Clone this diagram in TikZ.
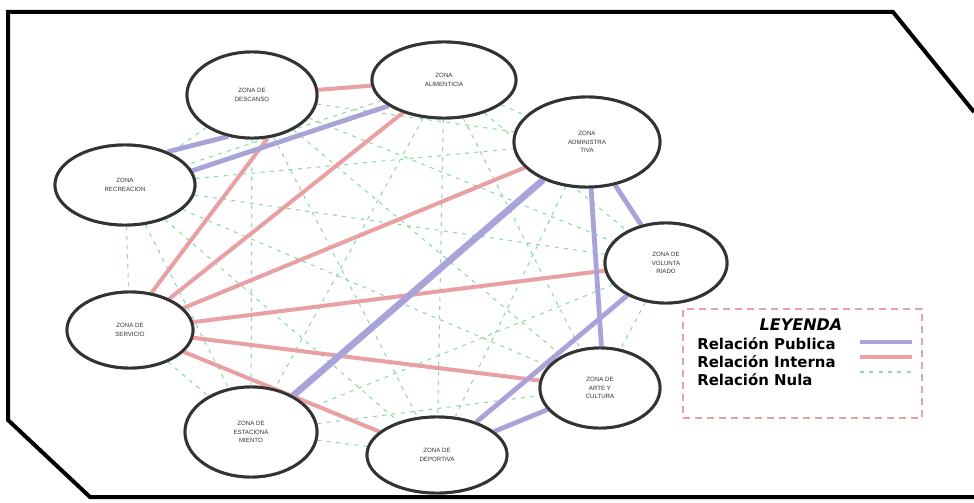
\documentclass[tikz,border=0pt]{standalone}
\usepackage{fontspec}
\setmainfont{Liberation Sans}
\newfontfamily\legfont{DejaVu Sans}
\usetikzlibrary{shapes.geometric}
\definecolor{pub}{HTML}{A9A3D9}
\definecolor{inter}{HTML}{E8A0A3}
\definecolor{nula}{HTML}{8FD9A8}
\definecolor{rim}{HTML}{333333}
\definecolor{legbox}{HTML}{E8A0A8}
\tikzset{
  zone/.style={ellipse, draw=rim, line width=2.2pt, fill=white, inner sep=0pt, align=center,
    font=\fontsize{4.6}{6.2}\selectfont, text=black!80},
  publine/.style={pub, line width=3.6pt},
  intline/.style={inter, line width=3pt},
  nulline/.style={nula, line width=0.8pt, dash pattern=on 3pt off 4pt},
  legtext/.style={font=\legfont\bfseries\fontsize{11.2}{13}\selectfont, anchor=west, inner sep=0pt}
}
\begin{document}
\begin{tikzpicture}[x=0.75pt,y=-0.75pt]
\useasboundingbox (0,0) rectangle (974,503);
\fill[white] (0,0) rectangle (974,503);
% frame
\draw[line width=3pt, line join=miter] (974,112) -- (893,12) -- (8,12) -- (8,420) -- (90,497) -- (974,497);
% nodes (placed first, drawn on top later)
\path
  (252,95) node[zone, minimum width=97.5pt, minimum height=64.5pt] (desc) {ZONA DE\\DESCANSO}
  (444,80) node[zone, minimum width=108pt, minimum height=57pt] (alim) {ZONA\\ALIMENTICIA}
  (587,142) node[zone, minimum width=109.5pt, minimum height=67.5pt] (adm) {ZONA\\ADMINISTRA\\TIVA}
  (125,185) node[zone, minimum width=105pt, minimum height=60pt] (rec) {ZONA\\RECREACION}
  (130,330) node[zone, minimum width=94.5pt, minimum height=57pt] (serv) {ZONA DE\\SERVICIO}
  (666,263) node[zone, minimum width=91.5pt, minimum height=60pt] (vol) {ZONA DE\\VOLUNTA\\RIADO}
  (600,388) node[zone, minimum width=90pt, minimum height=60pt] (arte) {ZONA DE\\ARTE Y\\CULTURA}
  (251,432) node[zone, minimum width=99pt, minimum height=67.5pt] (est) {ZONA DE\\ESTACIONA\\MIENTO}
  (437,455) node[zone, minimum width=105pt, minimum height=57pt] (dep) {ZONA DE\\DEPORTIVA};
% null relations
\begin{scope}[nulline]
\draw (desc) -- (adm);
\draw (desc) -- (vol);
\draw (desc) -- (arte);
\draw (desc) -- (est);
\draw (desc) -- (dep);
\draw (alim) -- (adm);
\draw (alim) -- (vol);
\draw (alim) -- (arte);
\draw (alim) -- (est);
\draw (alim) -- (dep);
\draw (alim) -- (rec);
\draw (rec) -- (adm);
\draw (rec) -- (serv);
\draw (rec) -- (vol);
\draw (rec) -- (est);
\draw (rec) -- (dep);
\draw (rec) -- (arte);
\draw (serv) -- (est);
\draw (adm) -- (dep);
\draw (vol) -- (arte);
\draw (vol) -- (est);
\draw (est) -- (dep);
\draw (est) -- (arte);
\draw (desc) -- (rec);
\end{scope}
% internal relations
\begin{scope}[intline]
\draw (desc) -- (alim);
\draw (serv.60) -- (desc.290);
\draw (serv) -- (alim);
\draw (serv) -- (adm);
\draw (serv) -- (vol);
\draw (serv) -- (arte);
\draw (serv) -- (dep);
\end{scope}
% public relations
\begin{scope}[publine]
\draw (rec.38) -- (desc.240);
\draw (rec.12) -- (alim.205);
\draw[line width=5pt] (adm) -- (est);
\draw (adm.275) -- (arte.88);
\draw (adm) -- (vol);
\draw (vol) -- (dep);
\draw (arte) -- (dep);
\end{scope}
% redraw nodes on top
\path
  (252,95) node[zone, minimum width=97.5pt, minimum height=64.5pt] {ZONA DE\\DESCANSO}
  (444,80) node[zone, minimum width=108pt, minimum height=57pt] {ZONA\\ALIMENTICIA}
  (587,142) node[zone, minimum width=109.5pt, minimum height=67.5pt] {ZONA\\ADMINISTRA\\TIVA}
  (125,185) node[zone, minimum width=105pt, minimum height=60pt] {ZONA\\RECREACION}
  (130,330) node[zone, minimum width=94.5pt, minimum height=57pt] {ZONA DE\\SERVICIO}
  (666,263) node[zone, minimum width=91.5pt, minimum height=60pt] {ZONA DE\\VOLUNTA\\RIADO}
  (600,388) node[zone, minimum width=90pt, minimum height=60pt] {ZONA DE\\ARTE Y\\CULTURA}
  (251,432) node[zone, minimum width=99pt, minimum height=67.5pt] {ZONA DE\\ESTACIONA\\MIENTO}
  (437,455) node[zone, minimum width=105pt, minimum height=57pt] {ZONA DE\\DEPORTIVA};
% legend
\node[draw=legbox, line width=0.9pt, dash pattern=on 5pt off 4pt, fill=white, minimum width=179.25pt, minimum height=81.75pt, inner sep=0pt] (leg) at (802.5,363.5) {};
\node[font=\legfont\bfseries\itshape\fontsize{12}{14}\selectfont, inner sep=0pt] (legt) at (801,325) {LEYENDA};
\node[legtext] (l1) at (697,344) {Relación Publica};
\node[legtext] (l2) at (697,362) {Relación Interna};
\node[legtext] (l3) at (697,380) {Relación Nula};
\coordinate (p1) at (860,342); \coordinate (p2) at (912,342);
\coordinate (i1) at (860,357); \coordinate (i2) at (912,357);
\coordinate (n1) at (860,372); \coordinate (n2) at (912,372);
\draw[pub, line width=3pt] (p1) -- (p2);
\draw[inter, line width=3pt] (i1) -- (i2);
\draw[nulline] (n1) -- (n2);
\end{tikzpicture}
\end{document}
